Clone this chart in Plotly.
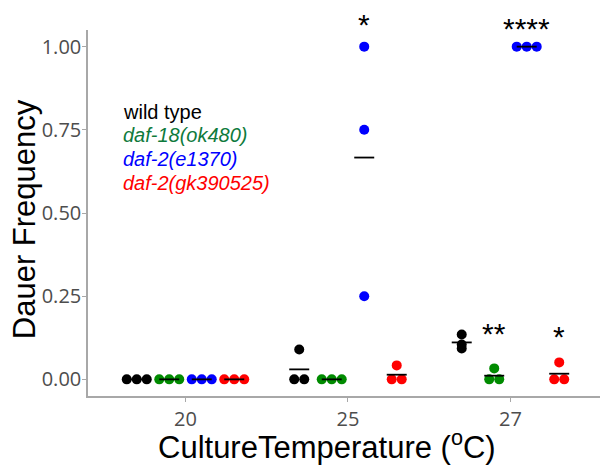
import plotly.graph_objects as go

# ---- data ----
temperatures = ["20", "25", "27"]
strains = ["wild type", "daf-18(ok480)", "daf-2(e1370)", "daf-2(gk390525)"]
strain_colors = ["#000000", "#008B00", "#0000FF", "#FF0000"]
label_colors = ["#000000", "#0F7A3C", "#0000FF", "#FF0000"]
label_italic = [False, True, True, True]

# dauer frequency values [temperature][strain] -> replicates
wt_vals = [[0, 0, 0], [0.09, 0, 0], [0.135, 0.105, 0.093]]
daf18_vals = [[0, 0, 0], [0, 0, 0], [0.033, 0, 0]]
e1370_vals = [[0, 0, 0], [1.0, 0.75, 0.25], [1.0, 1.0, 1.0]]
gk_vals = [[0, 0, 0], [0.042, 0, 0], [0.051, 0, 0]]
all_vals = [wt_vals, daf18_vals, e1370_vals, gk_vals]

# significance marks: (temperature index, strain index, text, y in data units)
sig_temp = [1, 2, 2, 2]
sig_strain = [2, 2, 1, 3]
sig_text = ["*", "****", "**", "*"]
sig_y = [1.066, 1.054, 0.137, 0.128]

Y_RANGE = [-0.05, 1.05]
DODGE = 0.2
DOT = 0.0615  # one dot diameter in x units
HALF_LINE = 0.0615

fig = go.Figure()

mean_x, mean_y = [], []
for s, name in enumerate(strains):
    xs, ys = [], []
    for t in range(len(temperatures)):
        center = (t + 1) + (s - 1.5) * DODGE
        vals = all_vals[s][t]
        groups = {}
        for v in vals:
            groups[v] = groups.get(v, 0) + 1
        for v, n in groups.items():
            for i in range(n):
                xs.append(center + (i - (n - 1) / 2) * DOT)
                ys.append(v)
        m = sum(vals) / len(vals)
        mean_x += [center - HALF_LINE, center + HALF_LINE, None]
        mean_y += [m, m, None]
    fig.add_trace(go.Scatter(x=xs, y=ys, mode="markers", name=name,
                             marker=dict(color=strain_colors[s], size=10, line=dict(width=0)),
                             showlegend=False, cliponaxis=False))

fig.add_trace(go.Scatter(x=mean_x, y=mean_y, mode="lines",
                         line=dict(color="black", width=1.8), showlegend=False))

annotations = []
for t, s, txt, y in zip(sig_temp, sig_strain, sig_text, sig_y):
    py = (y - Y_RANGE[0]) / (Y_RANGE[1] - Y_RANGE[0])
    annotations.append(dict(x=(t + 1) + (s - 1.5) * DODGE, y=py, xref="x", yref="paper",
                            text=txt, showarrow=False, xanchor="center", yanchor="middle",
                            font=dict(family="Liberation Sans, Arial", size=30, color="black")))

legend_y = [0.805, 0.733, 0.661, 0.589]
for i, name in enumerate(strains):
    txt = f"<i>{name}</i>" if label_italic[i] else name
    annotations.append(dict(x=0.6, y=legend_y[i], xref="x", yref="y", text=txt,
                            showarrow=False, xanchor="left", yanchor="middle",
                            font=dict(family="Liberation Sans, Arial", size=20, color=label_colors[i])))

annotations.append(dict(x=-0.125, y=0.483, xref="paper", yref="paper", text="Dauer Frequency",
                        textangle=-90, showarrow=False, xanchor="center", yanchor="middle",
                        font=dict(family="Liberation Sans, Arial", size=31, color="black")))
annotations.append(dict(x=0.466, y=-0.135, xref="paper", yref="paper",
                        text="CultureTemperature (<sup>o</sup>C)",
                        showarrow=False, xanchor="center", yanchor="middle",
                        font=dict(family="Liberation Sans, Arial", size=31, color="black")))

fig.update_layout(
    width=600, height=466,
    margin=dict(l=88, r=0, t=30, b=70),
    paper_bgcolor="white", plot_bgcolor="white",
    annotations=annotations,
    xaxis=dict(range=[0.4, 3.551], tickmode="array", tickvals=[1, 2, 3], ticktext=temperatures,
               showgrid=False, zeroline=False, showline=True, linecolor="#A8A8A8", linewidth=1.5,
               ticks="outside", ticklen=4, tickcolor="#A8A8A8", tickwidth=1,
               tickfont=dict(family="Open Sans", size=20, color="#4D4D4D")),
    yaxis=dict(range=Y_RANGE, tickmode="array", tickvals=[0, 0.25, 0.5, 0.75, 1.0],
               ticktext=["0.00", "0.25", "0.50", "0.75", "1.00"],
               showgrid=False, zeroline=False, showline=True, linecolor="#A8A8A8", linewidth=1.5,
               ticks="outside", ticklen=4, tickcolor="#A8A8A8", tickwidth=1,
               ticklabelstandoff=-3,
               tickfont=dict(family="Open Sans", size=20, color="#4D4D4D")),
)

fig.write_html("out.html")
